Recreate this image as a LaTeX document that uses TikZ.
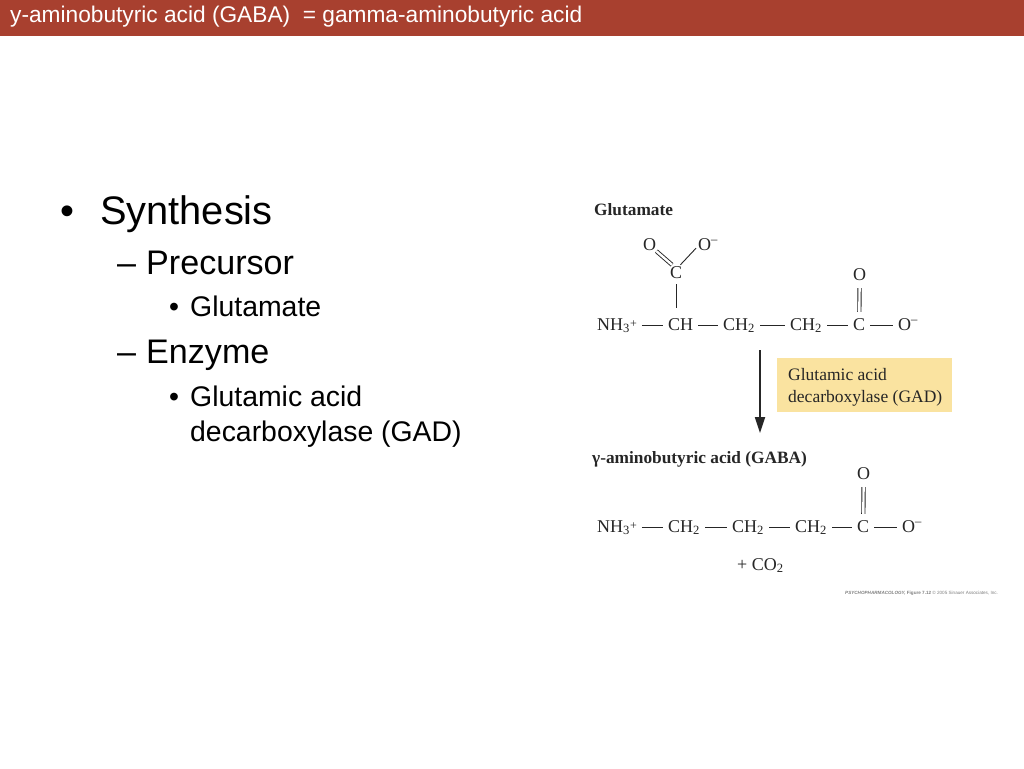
\documentclass[tikz,border=0pt]{standalone}
\usepackage{fontspec}
\setmainfont{Liberation Sans}
\newfontfamily\chemfont{Liberation Serif}
\usetikzlibrary{arrows.meta}
\definecolor{barred}{HTML}{A8402F}
\definecolor{gadyellow}{HTML}{FAE3A0}
\definecolor{chemgray}{HTML}{262626}
\newcommand\fsz[2]{\fontsize{#1}{#2}\selectfont}
\newcommand\chemplus{\raisebox{2.5pt}{\fsz{12}{12}+}}
\begin{document}
\begin{tikzpicture}[x=1pt,y=-1pt,
 txt/.style={anchor=base west, inner sep=0pt},
 lvlone/.style={txt, font=\fsz{39.8}{46}},
 lvltwo/.style={txt, font=\fsz{34.1}{40}},
 lvlthree/.style={txt, font=\fsz{28.4}{34}},
 atom/.style={anchor=base west, inner xsep=2pt, inner ysep=0pt, text height=13pt, text depth=3pt, font=\chemfont\fsz{18}{20}, text=chemgray},
 bond/.style={draw=chemgray, line width=0.9pt, shorten >=3pt, shorten <=3pt},
 dbond/.style={bond, double, double distance=2.4pt},
 chemlabel/.style={txt, font=\chemfont\bfseries\fsz{17.3}{20}, text=chemgray},
 chemtxt/.style={txt, font=\chemfont\fsz{17.5}{20}, text=chemgray},
]
\useasboundingbox (0,0) rectangle (1024,768);
\fill[white] (0,0) rectangle (1024,768);
% header
\fill[barred] (0,0) rectangle (1024,36);
\node[txt, text=white, font=\fsz{22.7}{26}] (title) at (10,23) {y-aminobutyric acid (GABA)\ \ = gamma-aminobutyric acid};
% bullets
\node[lvlone] (b1) at (60,224) {•};
\node[lvlone] (synth) at (100,224) {Synthesis};
\node[lvltwo] (d1) at (117,274) {–};
\node[lvltwo] (prec) at (146,274) {Precursor};
\node[lvlthree] (b2) at (169,316) {•};
\node[lvlthree] (glu) at (190,316) {Glutamate};
\node[lvltwo] (d2) at (117,363) {–};
\node[lvltwo] (enz) at (146,363) {Enzyme};
\node[lvlthree] (b3) at (169,406) {•};
\node[lvlthree] (gad1) at (190,406) {Glutamic acid};
\node[lvlthree] (gad2) at (190,441) {decarboxylase (GAD)};
% glutamate
\node[chemlabel] (glulabel) at (594,215) {Glutamate};
\node[atom] (ob) at (641,250) {O};
\node[atom] (oneg) at (696,250) {O\textsuperscript{–}};
\node[atom] (cb) at (668,278) {C};
\node[atom] (ot1) at (851,280) {O};
\node[atom] (nh1) at (595,330) {NH\textsubscript{3}\chemplus};
\node[atom] (ch) at (666,330) {CH};
\node[atom] (ch2a) at (721,330) {CH\textsubscript{2}};
\node[atom] (ch2b) at (788,330) {CH\textsubscript{2}};
\node[atom] (c1) at (851,330) {C};
\node[atom] (o1) at (896,330) {O\textsuperscript{–}};
\draw[dbond, shorten <=0pt, shorten >=0pt] ([xshift=-2pt,yshift=2pt]ob.south east) -- ([xshift=4pt]cb.north west);
\draw[bond, shorten <=0pt, shorten >=0pt] ([xshift=-4pt]cb.north east) -- ([yshift=5pt]oneg.south west);
\draw[bond, shorten >=9pt] (cb) -- (cb |- ch.north);
\draw[bond] (nh1) -- (ch);
\draw[bond] (ch) -- (ch2a);
\draw[bond] (ch2a) -- (ch2b);
\draw[bond] (ch2b) -- (c1);
\draw[bond] (c1) -- (o1);
\draw[dbond, shorten <=5pt, shorten >=5pt] (ot1) -- (c1);
% arrow and enzyme box
\coordinate (arrtop) at (760,350);
\coordinate (arrtip) at (760,433);
\draw[chemgray, line width=1.8pt, -{Triangle[length=16pt,width=10pt]}] (arrtop) -- (arrtip);
\node[fill=gadyellow, minimum width=175pt, minimum height=54pt, inner sep=0pt, anchor=north west] (gadbox) at (777,358) {};
\node[chemtxt] (gadtxt1) at (788,380) {Glutamic acid};
\node[chemtxt] (gadtxt2) at (788,402) {decarboxylase (GAD)};
% GABA
\node[chemlabel] (gabalabel) at (592,463) {γ-aminobutyric acid (GABA)};
\node[atom] (ot2) at (855,479) {O};
\node[atom] (nh2) at (595,532) {NH\textsubscript{3}\chemplus};
\node[atom] (ch2c) at (666,532) {CH\textsubscript{2}};
\node[atom] (ch2d) at (730,532) {CH\textsubscript{2}};
\node[atom] (ch2e) at (793,532) {CH\textsubscript{2}};
\node[atom] (c2) at (855,532) {C};
\node[atom] (o2) at (900,532) {O\textsuperscript{–}};
\draw[bond] (nh2) -- (ch2c);
\draw[bond] (ch2c) -- (ch2d);
\draw[bond] (ch2d) -- (ch2e);
\draw[bond] (ch2e) -- (c2);
\draw[bond] (c2) -- (o2);
\draw[dbond, shorten <=5pt, shorten >=5pt] (ot2) -- (c2);
\node[chemtxt, font=\chemfont\fsz{18}{20}] (co2) at (737,570) {+ CO\textsubscript{2}};
% credit
\node[txt, font=\fsz{4.6}{5}, text=gray] (credit) at (845,594) {\textbf{\textit{PSYCHOPHARMACOLOGY,}} \textbf{Figure 7.12} © 2005 Sinauer Associates, Inc.};
\end{tikzpicture}
\end{document}
